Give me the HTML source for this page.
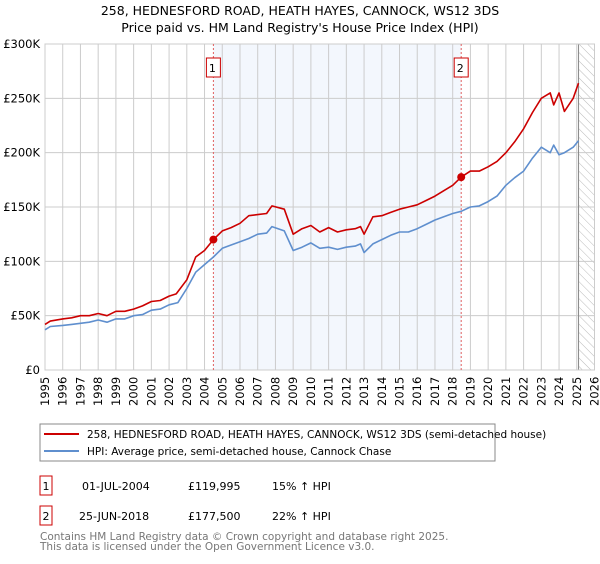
<!DOCTYPE html>
<html><head><meta charset="utf-8"><style>
body{margin:0;background:#fff;font-family:"DejaVu Sans","Liberation Sans",sans-serif;}
svg text{font-family:"DejaVu Sans","Liberation Sans",sans-serif;}
</style></head><body>
<svg width="600" height="560" viewBox="0 0 600 560" xmlns="http://www.w3.org/2000/svg">
<defs><pattern id="hatch" width="6" height="6" patternUnits="userSpaceOnUse" patternTransform="rotate(-45)"><line x1="0" y1="0" x2="0" y2="6" stroke="#bbb" stroke-width="1"/></pattern></defs>
<text x="300" y="15" text-anchor="middle" font-size="12.5">258, HEDNESFORD ROAD, HEATH HAYES, CANNOCK, WS12 3DS</text>
<text x="300" y="32" text-anchor="middle" font-size="12.5">Price paid vs. HM Land Registry's House Price Index (HPI)</text>
<g id="plot"></g>
<g>
<rect x="40" y="424" width="455" height="37" fill="#fff" stroke="#888"/>
<line x1="44" y1="434" x2="79" y2="434" stroke="#cc0000" stroke-width="2"/>
<text x="87" y="438" font-size="10.5">258, HEDNESFORD ROAD, HEATH HAYES, CANNOCK, WS12 3DS (semi-detached house)</text>
<line x1="44" y1="451" x2="79" y2="451" stroke="#5f8fce" stroke-width="2"/>
<text x="87" y="455" font-size="10.5">HPI: Average price, semi-detached house, Cannock Chase</text>
</g>
<g font-size="11">
<rect x="40" y="476" width="12" height="19" fill="#fff" stroke="#cc0000"/>
<text x="46" y="490" text-anchor="middle">1</text>
<text x="82" y="490">01-JUL-2004</text><text x="188" y="490">£119,995</text><text x="272" y="490">15% ↑ HPI</text>
<rect x="40" y="506" width="12" height="19" fill="#fff" stroke="#cc0000"/>
<text x="46" y="520" text-anchor="middle">2</text>
<text x="79" y="520">25-JUN-2018</text><text x="188" y="520">£177,500</text><text x="272" y="520">22% ↑ HPI</text>
</g>
<text x="40" y="540" font-size="10.5" fill="#777">Contains HM Land Registry data © Crown copyright and database right 2025.</text>
<text x="40" y="550" font-size="10.5" fill="#777">This data is licensed under the Open Government Licence v3.0.</text>
</svg>
<script>
const years=[1995,1996,1997,1998,1999,2000,2001,2002,2003,2004,2005,2006,2007,2008,2009,2010,2011,2012,2013,2014,2015,2016,2017,2018,2019,2020,2021,2022,2023,2024,2025,2026];
const yTicks=[0,50000,100000,150000,200000,250000,300000];
const yTickLabels=["£0","£50K","£100K","£150K","£200K","£250K","£300K"];
const redT=[1995,1995.3,1996,1996.5,1997,1997.5,1998,1998.5,1999,1999.5,2000,2000.5,2001,2001.5,2002,2002.4,2003,2003.5,2004,2004.5,2005,2005.5,2006,2006.5,2007,2007.5,2007.8,2008.5,2009,2009.5,2010,2010.5,2011,2011.5,2012,2012.5,2012.8,2013,2013.5,2014,2014.5,2015,2015.5,2016,2016.5,2017,2017.5,2018,2018.48,2019,2019.5,2020,2020.5,2021,2021.5,2022,2022.5,2023,2023.5,2023.7,2024,2024.3,2024.8,2025.1];
const redV=[42000,45000,47000,48000,50000,50000,52000,50000,54000,54000,56000,59000,63000,64000,68000,70000,83000,104000,110000,119995,128000,131000,135000,142000,143000,144000,151000,148000,125000,130000,133000,127000,131000,127000,129000,130000,132000,125000,141000,142000,145000,148000,150000,152000,156000,160000,165000,170000,177500,183000,183000,187000,192000,200000,210000,222000,237000,250000,255000,244000,255000,238000,250000,264000];
const hpiT=[1995,1995.3,1996,1996.5,1997,1997.5,1998,1998.5,1999,1999.5,2000,2000.5,2001,2001.5,2002,2002.5,2003,2003.5,2004,2004.5,2005,2005.5,2006,2006.5,2007,2007.5,2007.8,2008.5,2009,2009.5,2010,2010.5,2011,2011.5,2012,2012.5,2012.8,2013,2013.5,2014,2014.5,2015,2015.5,2016,2016.5,2017,2017.5,2018,2018.48,2019,2019.5,2020,2020.5,2021,2021.5,2022,2022.5,2023,2023.5,2023.7,2024,2024.3,2024.8,2025.1];
const hpiV=[37000,40000,41000,42000,43000,44000,46000,44000,47000,47000,50000,51000,55000,56000,60000,62000,75000,90000,97000,104000,112000,115000,118000,121000,125000,126000,132000,128000,110000,113000,117000,112000,113000,111000,113000,114000,116000,108000,116000,120000,124000,127000,127000,130000,134000,138000,141000,144000,146000,150000,151000,155000,160000,170000,177000,183000,195000,205000,200000,207000,198000,200000,205000,211000];
const sales=[[2004.5,119995],[2018.48,177500]];
const ns="http://www.w3.org/2000/svg";
const X0=45,X1=594.5,Y0=370,Y1=44;
const xs=t=>X0+(t-1995)/(2026-1995)*(X1-X0);
const ys=v=>Y0-v/300000*(Y0-Y1);
const g=document.getElementById('plot');
function mk(tag,attrs){const e=document.createElementNS(ns,tag);for(const k in attrs)e.setAttribute(k,attrs[k]);g.appendChild(e);return e;}
let e;
e=mk('rect',{x:xs(sales[0][0]),y:Y1,width:xs(sales[1][0])-xs(sales[0][0]),height:Y0-Y1,fill:'#eef3fc',opacity:0.7});


e=mk('rect',{x:xs(2025.1),y:Y1,width:X1-xs(2025.1),height:Y0-Y1,fill:'url(#hatch)'});


years.forEach((yr,i)=>{
 e=mk('line',{x1:xs(yr),x2:xs(yr),y1:Y1,y2:Y0,stroke:'#cccccc','stroke-width':1});
 
 
 const x=xs(yr)+4;
 e=mk('text',{x:x,y:406,transform:`rotate(-90 ${x} 406)`,'font-size':11.5});
 e.textContent=yr;
 
 
});
yTicks.forEach((v,i)=>{
 e=mk('line',{x1:X0,x2:X1,y1:ys(v),y2:ys(v),stroke:'#cccccc','stroke-width':1});
 
 
 e=mk('text',{x:40,y:ys(v)+4,'text-anchor':'end','font-size':11.5});
 e.textContent=yTickLabels[i];
 
 
});
e=mk('line',{x1:xs(2025.1),x2:xs(2025.1),y1:Y1,y2:Y0,stroke:'#888','stroke-width':1});


e=mk('rect',{x:X0,y:Y1,width:X1-X0,height:Y0-Y1,fill:'none',stroke:'#cccccc'});


sales.forEach((s,i)=>{
 e=mk('line',{x1:xs(s[0]),x2:xs(s[0]),y1:Y1,y2:Y0,stroke:'#e06060','stroke-width':1,'stroke-dasharray':'2,2'});
 
 
 e=mk('rect',{x:xs(s[0])-7,y:58,width:14,height:19,fill:'#fff',stroke:'#cc0000'});
 
 
 e=mk('text',{x:xs(s[0])-1,y:72,'text-anchor':'middle','font-size':11});
 e.textContent=String(i+1);
 
 
});
function path(T,V){return T.map((t,i)=>(i?'L':'M')+xs(t).toFixed(1)+' '+ys(V[i]).toFixed(1)).join(' ');}
e=mk('path',{d:path(hpiT,hpiV),fill:'none',stroke:'#5f8fce','stroke-width':1.6,'stroke-linejoin':'round'});


e=mk('path',{d:path(redT,redV),fill:'none',stroke:'#cc0000','stroke-width':1.6,'stroke-linejoin':'round'});


sales.forEach(s=>{
 e=mk('circle',{cx:xs(s[0]),cy:ys(s[1]),r:4,fill:'#cc0000'});
 
 
});
</script>
</body></html>
